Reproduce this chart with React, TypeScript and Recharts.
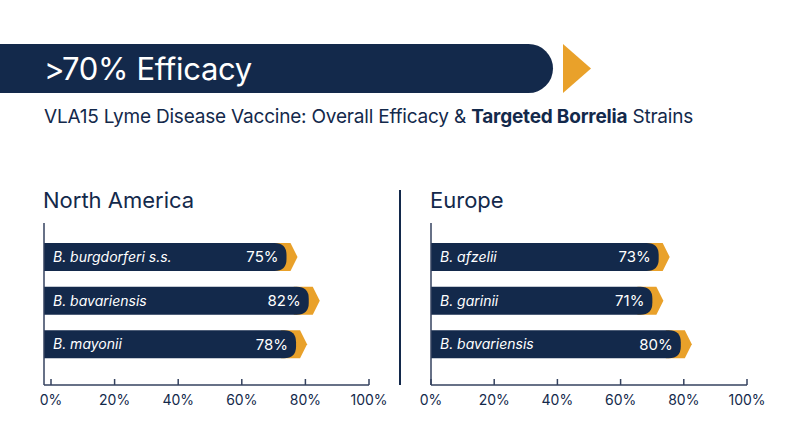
import React from 'react';
import { BarChart, Bar, XAxis, YAxis } from 'recharts';

const NAVY = '#13294b';
const ORANGE = '#e9a12a';
const AXIS = '#34425f';
const FONT = 'Inter, "Noto Sans", sans-serif';

const naStrains = ['B. burgdorferi s.s.', 'B. bavariensis', 'B. mayonii'];
const naEfficacy = [75, 82, 78];
const euStrains = ['B. afzelii', 'B. garinii', 'B. bavariensis'];
const euEfficacy = [73, 71, 80];
const xTicks = [0, 20, 40, 60, 80, 100];

const naData = naStrains.map((strain, i) => ({ strain, efficacy: naEfficacy[i] }));
const euData = euStrains.map((strain, i) => ({ strain, efficacy: euEfficacy[i] }));

// bar with rounded navy body and an orange chevron peeking out at the end
function ArrowBar(props: any) {
  const { x, y, width, height, payload, extend } = props;
  const left = x - extend;
  const end = x + width;
  const dark = end - 3;
  const r = 12;
  const mid = y + height / 2;
  return (
    <g>
      <path
        d={`M${end - 18},${y} L${end + 1},${y} L${end + 8},${mid} L${end + 1},${y + height} L${end - 18},${y + height} Z`}
        fill={ORANGE}
      />
      <path
        d={`M${left},${y} L${dark - r},${y} Q${dark},${y} ${dark},${y + r} L${dark},${y + height - r} Q${dark},${y + height} ${dark - r},${y + height} L${left},${y + height} Z`}
        fill={NAVY}
      />
      <text x={left + 9} y={mid} dy="0.35em" fill="#fff" fontSize={14} fontStyle="italic" fontFamily={FONT}>
        {payload.strain}
      </text>
      <text x={dark - 8} y={mid} dy="0.35em" fill="#fff" fontSize={15} textAnchor="end" fontFamily={FONT}>
        {payload.efficacy}%
      </text>
    </g>
  );
}

function PctTick(props: any) {
  const { x, y, payload } = props;
  return (
    <g>
      <line x1={x} x2={x} y1={y - 6} y2={y} stroke={AXIS} strokeWidth={1.5} />
      <text x={x} y={y + 20} textAnchor="middle" fill={NAVY} fontSize={14} fontFamily={FONT}>
        {payload.value}%
      </text>
    </g>
  );
}

function RegionChart({ data, padLeft, margin }: { data: any[]; padLeft: number; margin: any }) {
  return (
    <BarChart width={400} height={447} data={data} layout="vertical" margin={margin}>
      <XAxis
        type="number"
        domain={[0, 100]}
        ticks={xTicks}
        padding={{ left: padLeft, right: 0 }}
        axisLine={{ stroke: AXIS, strokeWidth: 1.5 }}
        tickLine={false}
        tickSize={0}
        tickMargin={0}
        height={30}
        interval={0}
        tick={<PctTick />}
      />
      <YAxis
        type="category"
        dataKey="strain"
        width={1}
        tick={false}
        tickLine={false}
        axisLine={{ stroke: AXIS, strokeWidth: 1.5 }}
        padding={{ top: 12, bottom: 19 }}
      />
      <Bar
        dataKey="efficacy"
        barSize={28}
        isAnimationActive={false}
        shape={(p: any) => <ArrowBar {...p} extend={padLeft} />}
      />
    </BarChart>
  );
}

export default function App() {
  return (
    <div style={{ position: 'absolute', left: 0, top: 0, width: 800, height: 447, background: '#fff', fontFamily: FONT, color: NAVY, overflow: 'hidden' }}>
      <div style={{ position: 'absolute', left: 0, top: 44, width: 553, height: 49, background: NAVY, borderRadius: '0 25px 25px 0' }} />
      <div style={{ position: 'absolute', left: 44, top: 44, height: 49, lineHeight: '49px', fontSize: 31, color: '#fff', letterSpacing: -0.3 }}>
        &gt;70% Efficacy
      </div>
      <svg style={{ position: 'absolute', left: 0, top: 0 }} width={800} height={447}>
        <polygon points="563,44 591,68.5 563,93" fill={ORANGE} />
        <line x1={400} x2={400} y1={190} y2={385} stroke={NAVY} strokeWidth={2} />
      </svg>
      <div style={{ position: 'absolute', left: 44, top: 104, fontSize: 19, lineHeight: '26px', whiteSpace: 'nowrap', letterSpacing: -0.2 }}>
        VLA15 Lyme Disease Vaccine: Overall Efficacy &amp; <b>Targeted Borrelia</b> Strains
      </div>
      <div style={{ position: 'absolute', left: 43, top: 186, fontSize: 22, lineHeight: '28px' }}>North America</div>
      <div style={{ position: 'absolute', left: 430, top: 186, fontSize: 22, lineHeight: '28px' }}>Europe</div>
      <div style={{ position: 'absolute', left: 0, top: 0 }}>
        <RegionChart data={naData} padLeft={7} margin={{ top: 223, right: 31, bottom: 32, left: 43 }} />
      </div>
      <div style={{ position: 'absolute', left: 400, top: 0 }}>
        <RegionChart data={euData} padLeft={0} margin={{ top: 223, right: 53, bottom: 32, left: 30 }} />
      </div>
    </div>
  );
}
